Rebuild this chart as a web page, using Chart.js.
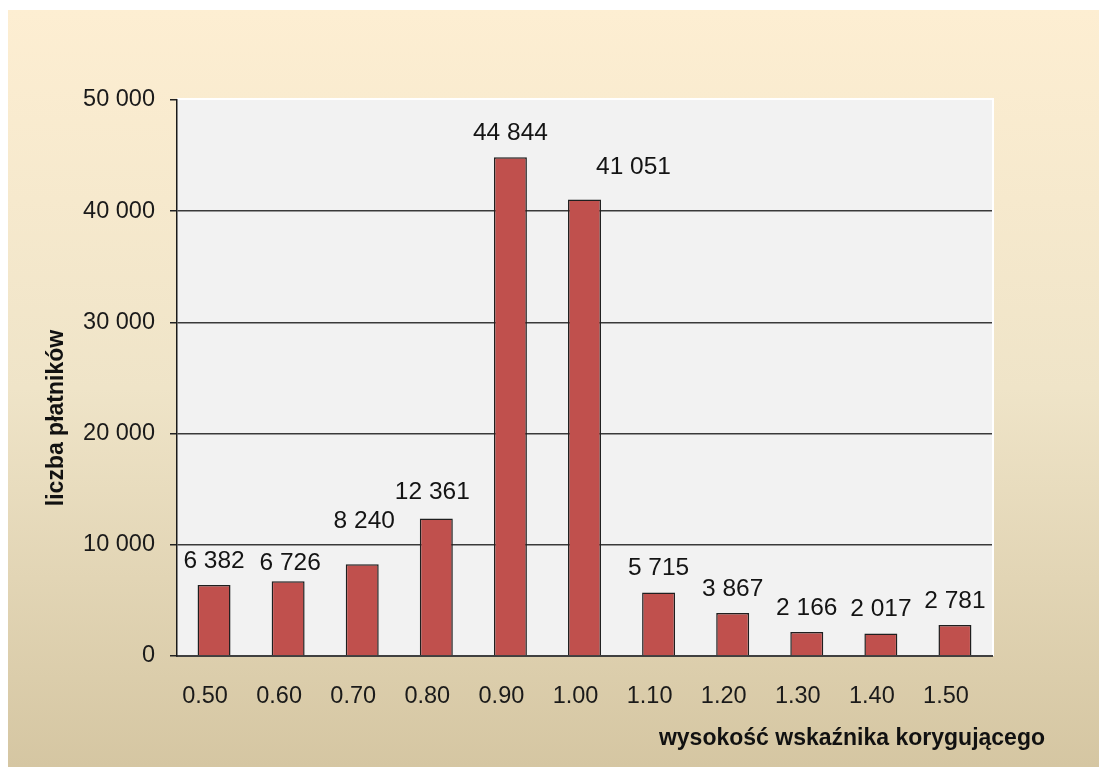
<!DOCTYPE html>
<html>
<head>
<meta charset="utf-8">
<script src="https://cdn.jsdelivr.net/npm/chart.js@4/dist/chart.umd.min.js"></script>
<style>
  html, body { margin: 0; padding: 0; background: #ffffff; }
  #wrap { width: 1099px; height: 767px; position: relative; }
</style>
</head>
<body>
<div id="wrap"><canvas id="c" width="1099" height="767"></canvas></div>
<script>
// ---- data ----
const categories = ["0.50", "0.60", "0.70", "0.80", "0.90", "1.00", "1.10", "1.20", "1.30", "1.40", "1.50"];
const payers = [6382, 6726, 8240, 12361, 44844, 41051, 5715, 3867, 2166, 2017, 2781];
const yTickValues = [0, 10000, 20000, 30000, 40000, 50000];
const xTitle = "wysokość wskaźnika korygującego";
const yTitle = "liczba płatników";

function fmt(v) {
  return String(v).replace(/\B(?=(\d{3})+(?!\d))/g, " ");
}

const FONT = "'Liberation Sans', Arial, sans-serif";

const backgroundPlugin = {
  id: 'bg',
  beforeDraw(chart) {
    const ctx = chart.ctx;
    const w = chart.width, h = chart.height;
    ctx.save();
    ctx.fillStyle = '#ffffff';
    ctx.fillRect(0, 0, w, h);
    const g = ctx.createLinearGradient(0, 10, 0, h);
    g.addColorStop(0, '#fdeed2');
    g.addColorStop(0.5, '#efe4c8');
    g.addColorStop(1, '#d5c6a2');
    ctx.fillStyle = g;
    ctx.fillRect(8, 10, w - 8, h - 10);
    const a = chart.chartArea;
    ctx.fillStyle = '#f2f2f2';
    ctx.fillRect(a.left, a.top, a.right - a.left, a.bottom - a.top);
    ctx.strokeStyle = '#ffffff';
    ctx.lineWidth = 2;
    ctx.beginPath();
    ctx.moveTo(a.left, a.top - 1);
    ctx.lineTo(a.right + 1, a.top - 1);
    ctx.lineTo(a.right + 1, a.bottom);
    ctx.stroke();
    ctx.restore();
  }
};

const labelsPlugin = {
  id: 'valueLabels',
  afterDatasetsDraw(chart, args, opts) {
    const ctx = chart.ctx;
    const meta = chart.getDatasetMeta(0);
    const adj = opts.adjust || {};
    ctx.save();
    ctx.font = "24.5px " + FONT;
    ctx.fillStyle = '#141414';
    ctx.textAlign = 'center';
    ctx.textBaseline = 'middle';
    meta.data.forEach((bar, i) => {
      const d = adj[i] || [0, 0];
      ctx.fillText(fmt(payers[i]), bar.x + d[0], bar.y - 24 + d[1]);
    });
    // axis titles
    ctx.font = "bold 23px " + FONT;
    ctx.fillStyle = '#111111';
    ctx.textAlign = 'right';
    ctx.fillText(xTitle, 1045, 739);
    ctx.save();
    ctx.translate(57, 418);
    ctx.rotate(-Math.PI / 2);
    ctx.textAlign = 'center';
    ctx.fillText(yTitle, 0, 0);
    ctx.restore();
    ctx.restore();
  }
};

new Chart(document.getElementById('c'), {
  type: 'bar',
  data: {
    labels: categories,
    datasets: [{
      data: payers,
      backgroundColor: '#c0504d',
      borderColor: '#1f1f1f',
      borderWidth: 1.5,
      borderSkipped: 'bottom',
      barPercentage: 0.445,
      categoryPercentage: 1.0
    }]
  },
  options: {
    responsive: false,
    animation: false,
    devicePixelRatio: 1,
    layout: { padding: { top: 100, right: 107, bottom: 0, left: 0 } },
    plugins: {
      legend: { display: false },
      tooltip: { enabled: false },
      valueLabels: { adjust: { 1: [2, 6], 2: [2, -19], 3: [-4, -2], 5: [49, -8] } }
    },
    scales: {
      x: {
        grid: { display: false, drawTicks: false },
        border: { display: true, color: '#404040', width: 2 },
        ticks: {
          font: { size: 23.5, family: FONT },
          color: '#1a1a1a',
          padding: 26,
          labelOffset: -9,
          maxRotation: 0,
          autoSkip: false
        },
        afterFit(scale) { scale.height = 111; }
      },
      y: {
        min: 0,
        max: 50000,
        afterBuildTicks(scale) { scale.ticks = yTickValues.map(v => ({ value: v })); },
        grid: {
          color: (c) => (c.tick && (c.tick.value === 50000 || c.tick.value === 0)) ? 'rgba(0,0,0,0)' : '#3a3a3a',
          tickColor: '#222222',
          tickLength: 7,
          lineWidth: 1.5
        },
        border: { display: true, color: '#1a1a1a', width: 1.5 },
        ticks: {
          font: { size: 23.5, family: FONT },
          color: '#1a1a1a',
          padding: 15,
          callback: (v) => fmt(v)
        },
        afterFit(scale) { scale.width = 177; }
      }
    }
  },
  plugins: [backgroundPlugin, labelsPlugin]
});
</script>
</body>
</html>
